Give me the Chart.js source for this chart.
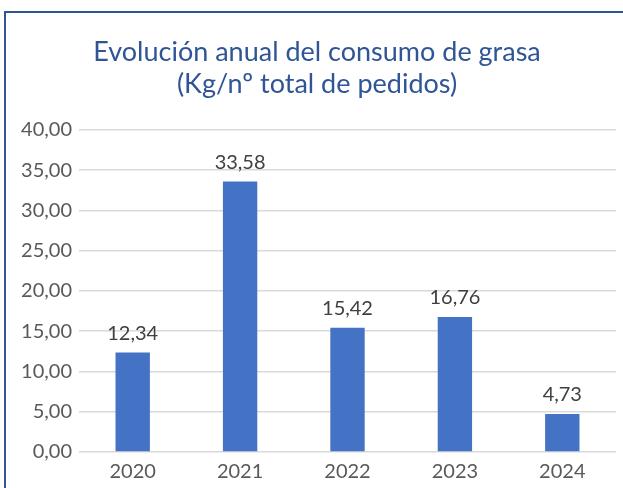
<!DOCTYPE html>
<html>
<head>
<meta charset="utf-8">
<script src="https://cdn.jsdelivr.net/npm/chart.js@4.4.1/dist/chart.umd.min.js"></script>
<style>
  html, body { margin: 0; padding: 0; background: #fff; }
  #wrap { width: 623px; height: 488px; position: relative; }
</style>
</head>
<body>
<div id="wrap"><canvas id="myChart" width="623" height="488"></canvas></div>
<script>
// data
var years = ['2020', '2021', '2022', '2023', '2024'];
var kgPorPedido = [12.34, 33.58, 15.42, 16.76, 4.73];
var yTicks = [0, 5, 10, 15, 20, 25, 30, 35, 40];
var titleLines = ['Evolución anual del consumo de grasa', '(Kg/nº total de pedidos)'];

var FONT = 'Lato, "Open Sans", sans-serif';

function fmt(v) {
    return v.toFixed(2).replace('.', ',');
}

// frame: left and top border like the excel chart box
var framePlugin = {
    id: 'frame',
    beforeDraw: function (chart) {
        var ctx = chart.ctx;
        ctx.save();
        ctx.fillStyle = '#fff';
        ctx.fillRect(0, 0, chart.width, chart.height);
        ctx.strokeStyle = '#2F5597';
        ctx.lineWidth = 2;
        ctx.beginPath();
        ctx.moveTo(5, chart.height);
        ctx.lineTo(5, 12);
        ctx.lineTo(chart.width, 12);
        ctx.stroke();
        ctx.restore();
    }
};

// value labels above each bar
var valueLabels = {
    id: 'valueLabels',
    afterDatasetsDraw: function (chart) {
        var ctx = chart.ctx;
        var meta = chart.getDatasetMeta(0);
        ctx.save();
        ctx.font = '20px ' + FONT;
        ctx.fillStyle = '#404040';
        ctx.textAlign = 'center';
        ctx.textBaseline = 'alphabetic';
        meta.data.forEach(function (bar, i) {
            ctx.fillText(fmt(kgPorPedido[i]), bar.x, bar.y - 13);
        });
        ctx.restore();
    }
};

var ctxChart = document.getElementById('myChart').getContext('2d');
var chart = new Chart(ctxChart, {
    type: 'bar',
    data: {
        labels: years,
        datasets: [{
            data: kgPorPedido,
            backgroundColor: '#4472C4',
            borderWidth: 0,
            barPercentage: 0.32,
            categoryPercentage: 1
        }]
    },
    options: {
        responsive: false,
        animation: false,
        layout: { padding: { left: 18, right: 7, top: 0, bottom: 0 } },
        plugins: {
            legend: { display: false },
            tooltip: { enabled: false },
            title: {
                display: true,
                text: titleLines,
                color: '#2F5597',
                font: { family: FONT, size: 27, weight: 'normal', lineHeight: 1.2 },
                padding: { top: 36, bottom: 29 }
            }
        },
        scales: {
            x: {
                grid: { display: false, drawTicks: false },
                border: { display: false },
                ticks: { color: '#595959', font: { family: FONT, size: 20 }, padding: 8 },
                afterFit: function (s) { s.height = 36; }
            },
            y: {
                min: 0,
                max: 40,
                afterBuildTicks: function (s) {
                    s.ticks = yTicks.map(function (v) { return { value: v }; });
                },
                grid: { color: '#D9D9D9', lineWidth: 1.5, drawTicks: false },
                border: { display: false },
                ticks: {
                    color: '#595959',
                    font: { family: FONT, size: 20 },
                    padding: 7,
                    callback: function (v) { return fmt(v); }
                },
                afterFit: function (s) { s.width = 61; }
            }
        }
    },
    plugins: [framePlugin, valueLabels]
});
</script>
</body>
</html>
